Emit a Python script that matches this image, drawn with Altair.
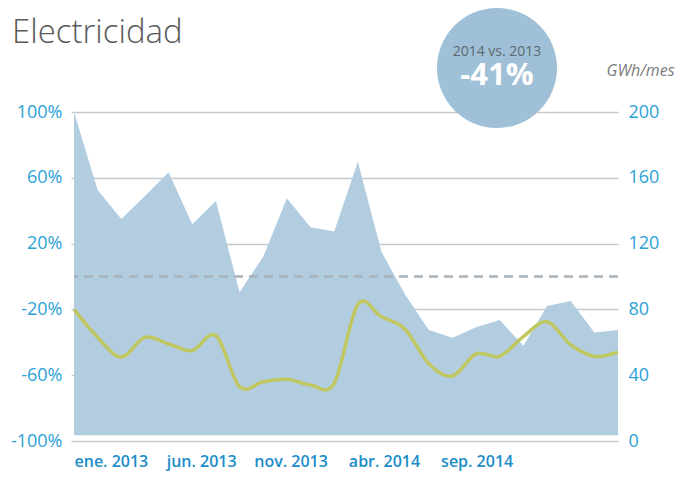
import altair as alt
import pandas as pd

# ---- data ----
months = ["ene. 2013", "feb. 2013", "mar. 2013", "abr. 2013", "may. 2013", "jun. 2013",
          "jul. 2013", "ago. 2013", "sep. 2013", "oct. 2013", "nov. 2013", "dic. 2013",
          "ene. 2014", "feb. 2014", "mar. 2014", "abr. 2014", "may. 2014", "jun. 2014",
          "jul. 2014", "ago. 2014", "sep. 2014", "oct. 2014", "nov. 2014", "dic. 2014"]
gwh = [200, 152.6, 135, 149, 163.3, 131.7, 145.9, 90.4, 112, 147.5, 130, 127.3,
       169.8, 115, 89, 67.5, 62.8, 69.1, 73.6, 57.9, 82.1, 85.1, 65.9, 67.5]
pct = [-20, -37, -49, -37, -41, -45, -36, -67, -64, -62.5, -66, -65,
       -17, -24.5, -32, -53, -60.5, -47, -48.5, -36.5, -27.5, -41.5, -48.5, -46]
reference_pct = [0]

tick_labels = ["ene. 2013", "jun. 2013", "nov. 2013", "abr. 2014", "sep. 2014"]
tick_pos = [0, 3.9, 7.6, 11.6, 15.5]
left_ticks = [-100, -60, -20, 20, 60, 100]
right_ticks = [0, 40, 80, 120, 160, 200]

title_text = "Electricidad"
cmp_label = "2014 vs. 2013"
cmp_value = "-41%"
unit_label = "GWh/mes"

df = pd.DataFrame({"i": list(range(len(months))), "mes": months, "gwh": gwh, "pct": pct})
ref_df = pd.DataFrame({"ref": reference_pct})
ann_df = pd.DataFrame({"title": [title_text], "cmp": [cmp_label], "val": [cmp_value]})

FONT = "Open Sans"
BLUE = "#2ba2d6"

label_expr = "[" + ",".join("'%s'" % t for t in tick_labels) + "][indexof([" + \
    ",".join(str(p) for p in tick_pos) + "], datum.value)]"

xenc = alt.X("i:Q", scale=alt.Scale(domain=[0, len(months) - 1], nice=False, zero=False),
             axis=alt.Axis(values=tick_pos, labelExpr=label_expr, title=None, domain=False,
                           ticks=False, grid=False, labelAlign="left", labelPadding=12,
                           labelFont=FONT, labelFontSize=16, labelFontWeight=600,
                           labelColor="#1b8dc8", labelFlush=False, labelOverlap=False))

area = alt.Chart(df).mark_area(color="#b3cde0", opacity=1, interpolate="linear").encode(
    x=xenc,
    y=alt.Y("gwh:Q", scale=alt.Scale(domain=[0, 200], nice=False),
            axis=alt.Axis(orient="right", values=right_ticks, grid=False, ticks=False,
                          domain=False, labelPadding=10, labelFont=FONT, labelFontSize=18,
                          labelColor=BLUE, title=unit_label, titleAngle=0, titleX=-12,
                          titleY=-37, titleAlign="left", titleBaseline="alphabetic",
                          titleFontStyle="italic", titleFontWeight="normal",
                          titleFontSize=16, titleColor="#7b7b7b", titleFont=FONT)),
    y2=alt.datum(3.5),
)

line = alt.Chart(df).mark_line(color="#c0c760", strokeWidth=3.5, interpolate="cardinal").encode(
    x=xenc,
    y=alt.Y("pct:Q", scale=alt.Scale(domain=[-100, 100], nice=False),
            axis=alt.Axis(orient="left", values=left_ticks, labelExpr="datum.value + '%'",
                          grid=True, gridColor="#c6cacd", gridWidth=1.5, tickSize=3,
                          tickColor="#c6cacd", tickWidth=1.5, domain=False, labelPadding=9,
                          labelFont=FONT, labelFontSize=18, labelColor=BLUE, title=None)),
)

rule = alt.Chart(ref_df).mark_rule(color="#a8b2ba", strokeWidth=2.5, strokeDash=[9, 6]).encode(
    y=alt.Y("ref:Q", scale=alt.Scale(domain=[-100, 100], nice=False), axis=None),
)

circle = alt.Chart(ann_df).mark_circle(size=14400, color="#9fc0d7", opacity=1).encode(
    x=alt.value(423), y=alt.value(-44))
cmp_txt = alt.Chart(ann_df).mark_text(font=FONT, fontSize=14, color="#5d6870", align="center",
                                      baseline="alphabetic").encode(
    x=alt.value(423), y=alt.value(-56), text="cmp:N")
val_txt = alt.Chart(ann_df).mark_text(font=FONT, fontSize=31, fontWeight="bold", color="white",
                                      align="center", baseline="alphabetic").encode(
    x=alt.value(423), y=alt.value(-27), text="val:N")
title = alt.Chart(ann_df).mark_text(font=FONT, fontSize=33, fontWeight=300, color="#5a5a5a",
                                    align="left", baseline="alphabetic").encode(
    x=alt.value(-62), y=alt.value(-69), text="title:N")

chart = alt.layer(area, rule, line, circle, cmp_txt, val_txt, title).resolve_scale(
    y="independent"
).properties(
    width=544, height=329,
    padding={"left": 66, "top": 104, "right": 61, "bottom": 35},
    autosize=alt.AutoSizeParams(type="none"),
    background="white",
).configure_view(stroke=None)

chart.save("out.html", embed_options={"renderer": "svg", "actions": False})
